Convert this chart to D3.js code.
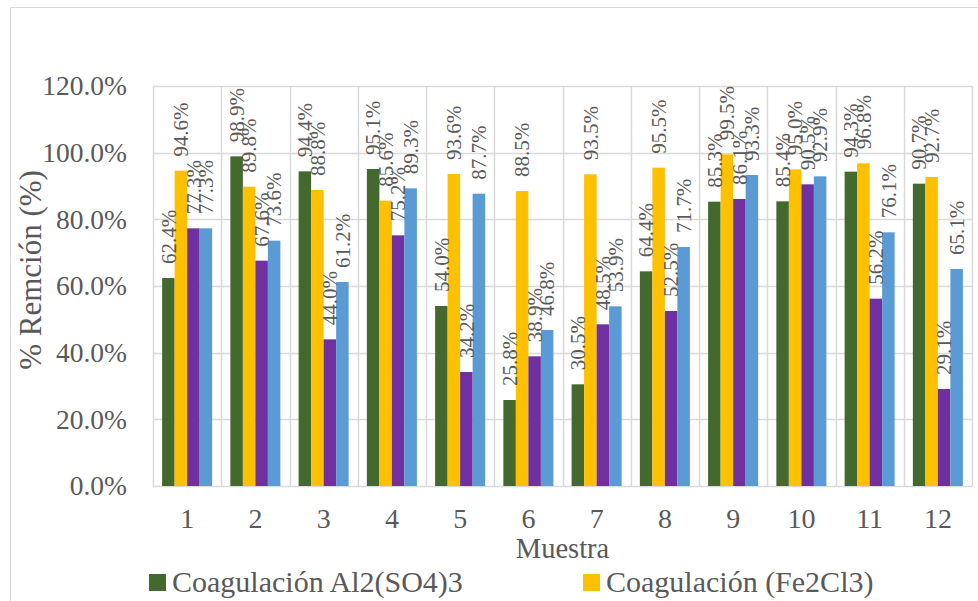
<!DOCTYPE html>
<html>
<head>
<meta charset="utf-8">
<script src="https://cdn.jsdelivr.net/npm/d3@7"></script>
<style>
  html, body { margin: 0; padding: 0; background: #fff; }
  svg { display: block; }
</style>
</head>
<body>
<svg id="chart" width="978" height="601"></svg>
<script>
// Muestras (eje X)
const categories = ["1", "2", "3", "4", "5", "6", "7", "8", "9", "10", "11", "12"];

// % de remoción por tratamiento
const alSulfato = [62.4, 98.9, 94.4, 95.1, 54.0, 25.8, 30.5, 64.4, 85.3, 85.4, 94.3, 90.7];
const cloruroFe = [94.6, 89.8, 88.8, 85.6, 93.6, 88.5, 93.5, 95.5, 99.5, 95.0, 96.8, 92.7];
const serie3 = [77.3, 67.6, 44.0, 75.2, 34.2, 38.9, 48.5, 52.5, 86.1, 90.5, 56.2, 29.1];
const serie4 = [77.3, 73.6, 61.2, 89.3, 87.7, 46.8, 53.9, 71.7, 93.3, 92.9, 76.1, 65.1];

const seriesValues = [alSulfato, cloruroFe, serie3, serie4];
const seriesColors = ["#436a2c", "#ffc000", "#7030a0", "#5b9bd5"];
const legendNames = ["Coagulación Al2(SO4)3", "Coagulación (Fe2Cl3)"];

const yTicks = [0, 20, 40, 60, 80, 100, 120];

const FONT = "Liberation Serif";
const INK = "#595959";

const svg = d3.select("#chart");
const W = 978, H = 601;
const plot = { left: 153, top: 86, right: 972, bottom: 486 };

function styleText(sel, size) {
  return sel.style("font-family", FONT).style("font-size", size + "px").style("fill", INK);
}

// Outer chart frame
svg.append("path")
  .attr("d", `M10.5,${H} V7.5 H${W}`)
  .attr("fill", "none").attr("stroke", "#d9d9d9").attr("stroke-width", 1);

const x0 = d3.scaleBand()
  .domain(categories)
  .range([plot.left, plot.right])
  .paddingInner(0.267)
  .paddingOuter(0.1335);

const x1 = d3.scaleBand()
  .domain(d3.range(seriesValues.length))
  .range([0, x0.bandwidth()]);

const y = d3.scaleLinear().domain([0, 120]).range([plot.bottom, plot.top]);

const grid = svg.append("g");
// horizontal gridlines
grid.selectAll("line.h").data(yTicks).join("line")
  .attr("x1", plot.left).attr("x2", plot.right)
  .attr("y1", d => Math.round(y(d)) + 0.5).attr("y2", d => Math.round(y(d)) + 0.5)
  .attr("stroke", "#d9d9d9").attr("stroke-width", 1.5);
// vertical category dividers
const step = x0.step();
const dividers = d3.range(categories.length + 1).map(i => plot.left + i * step);
grid.selectAll("line.v").data(dividers).join("line")
  .attr("x1", d => Math.round(d) + 0.5).attr("x2", d => Math.round(d) + 0.5)
  .attr("y1", plot.top).attr("y2", plot.bottom)
  .attr("stroke", "#d9d9d9").attr("stroke-width", 1.5);

// Bars
const groups = svg.append("g").selectAll("g").data(categories).join("g")
  .attr("transform", d => `translate(${x0(d)},0)`);

groups.selectAll("rect")
  .data((d, i) => seriesValues.map((vals, s) => ({ s, v: vals[i] })))
  .join("rect")
  .attr("x", d => x1(d.s))
  .attr("width", x1.bandwidth())
  .attr("y", d => y(d.v))
  .attr("height", d => plot.bottom - y(d.v))
  .attr("fill", d => seriesColors[d.s]);

// Value labels, rotated
styleText(groups.selectAll("text")
  .data((d, i) => seriesValues.map((vals, s) => ({ s, v: vals[i] })))
  .join("text")
  .attr("transform", d => `translate(${x1(d.s) + x1.bandwidth() / 2},${y(d.v) - 14}) rotate(-90)`)
  .attr("dy", "0.35em")
  .text(d => d.v.toFixed(1) + "%"), 21);

// Y axis
const yAxis = d3.axisLeft(y).tickValues(yTicks).tickSize(0).tickPadding(26)
  .tickFormat(d => d.toFixed(1) + "%");
const yg = svg.append("g").attr("transform", `translate(${plot.left},0)`).call(yAxis);
yg.select(".domain").remove();
yg.attr("font-family", null).attr("font-size", null);
styleText(yg.selectAll("text"), 27.5);

// X axis
const xAxis = d3.axisBottom(x0).tickSize(0).tickPadding(22);
const xg = svg.append("g").attr("transform", `translate(0,${plot.bottom})`).call(xAxis);
xg.select(".domain").remove();
xg.attr("font-family", null).attr("font-size", null);
styleText(xg.selectAll("text"), 28);

// Axis titles
styleText(svg.append("text")
  .attr("x", (plot.left + plot.right) / 2).attr("y", 558)
  .attr("text-anchor", "middle")
  .text("Muestra"), 28.5);

styleText(svg.append("text")
  .attr("transform", `translate(41,270) rotate(-90)`)
  .attr("text-anchor", "middle")
  .text("% Remción (%)"), 31);

// Legend
const legendX = [149, 583];
const legend = svg.append("g").selectAll("g").data(legendNames).join("g")
  .attr("transform", (d, i) => `translate(${legendX[i]},574)`);
legend.append("rect").attr("width", 17).attr("height", 17)
  .attr("fill", (d, i) => seriesColors[i]);
styleText(legend.append("text").attr("x", 23).attr("y", 18)
  .text(d => d), 30);
</script>
</body>
</html>
